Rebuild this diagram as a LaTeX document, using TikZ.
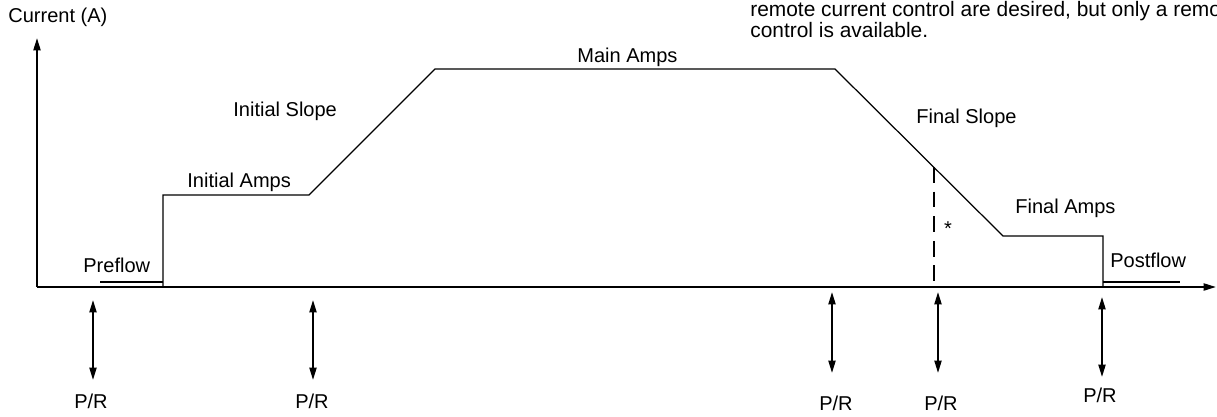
\documentclass[tikz,border=0pt]{standalone}
\usepackage{fontspec}
\setmainfont{Liberation Sans}
\usetikzlibrary{arrows.meta, positioning}

\begin{document}
\begin{tikzpicture}[
x=0.02cm, y=-0.02cm,
>={Triangle[length=7pt, width=4pt]},
every node/.style={font=\fontsize{11.4}{11.4}\selectfont, inner sep=0pt, anchor=base west},
axis/.style={->, line width=1.1pt},
curve/.style={line width=0.7pt},
cutline/.style={line width=0.7pt, dash pattern=on 9pt off 5pt},
prline/.style={<->, line width=1pt},
prtext/.style={anchor=base}
]
\useasboundingbox (0,0) rectangle (1217,416);

% Axes
\coordinate (origin) at (37,287);
\coordinate (ytop) at (37,38);
\coordinate (xend) at (1216,287);
\node (ylabel) at (8,22) {Current (A)};

% Current profile
\coordinate (preA) at (100,282);
\coordinate (preB) at (163,282);
\coordinate (riseA) at (163,287);
\coordinate (initL) at (163,195);
\coordinate (initR) at (309,195);
\coordinate (mainL) at (435,69);
\coordinate (mainR) at (835,69);
\coordinate (cut) at (934,167);
\coordinate (cutB) at (934,287);
\coordinate (finL) at (1003,236);
\coordinate (finR) at (1103,236);
\coordinate (fallB) at (1103,287);
\coordinate (postA) at (1103,282);
\coordinate (postB) at (1180,282);

% Labels
\node (preflow) at (83,272) {Preflow};
\node (initamps) at (187,187) {Initial Amps};
\node (initslope) at (233,116) {Initial Slope};
\node (mainamps) at (577,62) {Main Amps};
\node (finslope) at (916,123) {Final Slope};
\node (finamps) at (1015,213) {Final Amps};
\node (postflow) at (1110,267) {Postflow};
\node[anchor=center] (star) at (948,229) {*};
\begin{scope}
\clip (0,0) rectangle (1217,416);
\node[align=left, anchor=base west, font=\fontsize{11.9}{11.4}\selectfont] (note) at (750,37) {remote current control are desired, but only a remote\\control is available.};
\end{scope}

% P/R points
\coordinate (pr1t) at (93,300);   \coordinate (pr1b) at (93,380);
\coordinate (pr2t) at (313,300);  \coordinate (pr2b) at (313,380);
\coordinate (pr3t) at (832,292);  \coordinate (pr3b) at (832,373);
\coordinate (pr4t) at (938,292);  \coordinate (pr4b) at (938,373);
\coordinate (pr5t) at (1102,297); \coordinate (pr5b) at (1102,377);
\node[prtext] (pr1) at (91,408) {P/R};
\node[prtext] (pr2) at (312,408) {P/R};
\node[prtext] (pr3) at (836,410) {P/R};
\node[prtext] (pr4) at (941,410) {P/R};
\node[prtext] (pr5) at (1100,402) {P/R};

% Connections
\draw[axis] (origin) -- (ytop);
\draw[axis] (origin) -- (xend);
\draw[curve] (preA) -- (preB);
\draw[curve] (riseA) -- (initL) -- (initR) -- (mainL) -- (mainR) -- (finL) -- (finR) -- (fallB);
\draw[curve] (postA) -- (postB);
\draw[cutline] (cut) -- (cutB);
\draw[prline] (pr1t) -- (pr1b);
\draw[prline] (pr2t) -- (pr2b);
\draw[prline] (pr3t) -- (pr3b);
\draw[prline] (pr4t) -- (pr4b);
\draw[prline] (pr5t) -- (pr5b);

\end{tikzpicture}
\end{document}
